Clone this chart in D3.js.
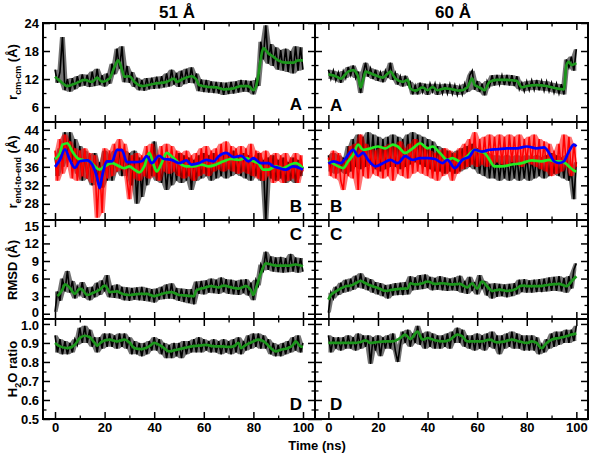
<!DOCTYPE html>
<html>
<head>
<meta charset="utf-8">
<script src="https://cdn.jsdelivr.net/npm/d3@7"></script>
<style>
  body { margin: 0; background: #fff; }
  svg text { font-family: "Liberation Sans", Arial, sans-serif; font-weight: bold; }
</style>
</head>
<body>
<script>
const WIDTH  = 591;
const HEIGHT = 453;

// Panel columns (x ranges) and rows (y ranges), in pixels
const COLS = [[43, 315], [315, 588]];
const ROWS = [[23, 122], [122, 220], [220, 319], [319, 419]];
const X_DOMAINS = [[-4.84, 104.84], [-5.4, 104.7]];

const GREEN_DARK = "#1c961c";
const GREEN_LIME = "#22ee22";

// ---- axis ticks ----
const X_TICKS  = [0, 20, 40, 60, 80, 100];
const X_MINOR  = [10, 30, 50, 70, 90];
const A_TICKS  = [6, 12, 18, 24];
const A_MINOR  = [3, 9, 15, 21];
const B_TICKS  = [28, 32, 36, 40, 44];
const B_MINOR  = [26, 30, 34, 38, 42];
const C_TICKS  = [0, 3, 6, 9, 12, 15];
const C_MINOR  = [1.5, 4.5, 7.5, 10.5, 13.5];
const D_TICKS  = [0.5, 0.6, 0.7, 0.8, 0.9, 1.0];
const D_MINOR  = [0.55, 0.65, 0.75, 0.85, 0.95];

// ---- raw series: one value per ns, index = time (ns) ----
const rcmLeftRaw = [14,11.2,13.5,21,9.6,12,9.3,12.2,9.8,12.6,10.4,13,10.6,12.9,10.3,13.6,10.5,14.2,10.7,12.8,
  10.4,13.2,11,15.3,13,18.5,14.2,19,11.3,14.8,11.2,13.5,10.3,12.3,9.6,11.8,9.5,12.2,9.8,12.3,
  9.9,12.5,10,12.6,10.2,13.2,10.4,14,10.8,13.3,10.3,13.8,10.9,14.2,11.2,14.5,11.1,13.2,9.4,11.9,
  9.2,11.8,9.1,11.5,9,11.4,8.9,11.3,8.6,11.2,8.8,11.4,8.9,11.5,9.1,11.8,9.3,11.7,9.2,11.6,
  8.7,11.8,10.5,20,16.2,23.5,15.3,19.5,14.8,18.8,14,18.2,13.8,18.5,13.5,18,13.2,19,13.8,18.8,14];
const rcmRightRaw = [14,12,13.8,11.7,13.4,11.2,13.7,12.2,14.6,12.8,14.9,12.2,13.6,9,13,15.5,12.5,14.3,12,14,
  11.6,13.4,11.3,13.8,12.3,15.5,11.8,13.3,10.8,12.6,10.4,12.7,10.8,11.4,8.7,10.6,8.7,11.2,9.2,11,
  8.6,11,9.3,11,8.6,10.8,8.9,11,8.9,10.9,8.8,10.7,8.6,10.5,8.7,11,9.2,12.8,13.8,9.7,
  11.6,9.2,11,8.5,11.6,10.4,12.8,10.6,12.9,10.8,12.8,10.7,12.9,10.6,12.8,10.5,12.6,9.8,11.2,9.4,
  11.5,9.6,11.7,9.7,11.8,9.6,11.6,9.5,11.5,9.4,11.2,9.1,11,8.9,10.9,8.7,16.2,14.5,16.8,13.8,18.4];

const endLeftBlack = [38,34,40,36,43.5,38,43.5,37,42,34.5,40.5,33,39.5,33.5,38.5,32,39,33,37,31.5,
  39.5,33,38.5,33,39.5,35,40,34,39.5,34,39,32,39.5,28,38,29.5,37.5,32,38.5,34,
  41.5,33,38,32.5,37.5,31,37,32,38,33,39,32.5,38.5,33,38,31,37.5,33,38.5,33.5,
  39,34,38.5,33,39,33.5,38,34,38.5,33.5,39,34,39.5,34.5,38.5,34,39,33.5,38.5,33,
  38,34,39,33,37.5,24,38,33.5,38.5,33,37.5,33.5,38,32.5,37,33,38,32.5,37.5,34,36];
const endLeftRed = [39.5,33,42,34.5,43,36,41.5,33.5,40,33,39.5,34,40,33.5,39,32.5,38.5,25,36,26,
  40,33.5,39.5,34,41,35,42,35.5,41,33.5,29,38.5,33.5,39,33,38.5,34,40.5,33.5,41,
  34,38.5,33,40.5,35,41,34.5,40.5,35,39.5,34,39,33.5,39.5,34,38.5,33,39,34,40,
  34.5,40.5,34,39.5,35,40,35.5,41,35,41.5,35.5,40.5,35,40,34.5,40.5,35,40,34.5,41,
  34,39.5,33.5,39,33,39.5,34,38.5,32.5,39,33,38.5,32.5,39,33,38,33.5,39,32.5,38.5,35];
const endRightBlack = [38.5,35,39,34.5,38.5,35,38,34.5,40.5,35,42,36,43,35.5,42.5,36,43.5,36.5,43,35.5,
  42.5,35,42,35.5,42.5,36,43,36,42.5,35.5,42,36,43,36.5,43.5,37,43,36.5,42.5,36,
  42,35.5,41.5,35,40.5,35,40,34.5,39.5,35,39,34.5,39.5,35,40,35.5,40.5,36,41,35.5,
  40,34.5,39.5,34,39,33.5,38.5,33.5,38.5,33,38,33.5,38.5,33,38,33.5,38.5,33,38,33.5,
  38.5,33,38,33.5,38.5,34,38,33.5,38.5,34,39,34.5,38.5,34,38,33.5,38.5,33,35,29,37];
const endRightRed = [38,34,39.5,33.5,39,33,31,37.5,34,40.5,33.5,41,31,43,34,41,33.5,40,34.5,39.5,
  34,40,33.5,40.5,34,41,33,40.5,34.5,41.5,34,40,33.5,41,34.5,42,35,41,34.5,40.5,
  34,39.5,33.5,39,33,39.5,34,40,34.5,39.5,33,39,34.5,40,35.5,41,36,42,36.5,43.5,
  36,42,36.5,42.5,36,43,36.5,42.5,37,43,36.5,42.5,36,43,37,42.5,36.5,43,36,42,
  37,42.5,36.5,43,36,42,35.5,41.5,35,41,34,39.5,34.5,41,35,43,36,42.5,34,41,36];

const rmsdLeftRaw = [0.3,3.8,2.2,6,3.8,7.3,3.6,5.6,2.6,4.6,3.3,5.4,2.7,4.5,2.3,4.6,2.8,5.3,3.2,5.7,
  3.8,6.6,2.8,4.8,2.7,5,2.6,4.6,2.3,4.5,2.2,4.4,2.4,4.5,2.3,4.6,2.2,4.4,2.1,4.2,
  1.9,4.3,2.4,4.6,2.5,5,2.6,5.2,2.5,4.4,2.2,4.3,2,4.2,1.8,4.2,1.6,5.5,3.4,5.6,
  3.3,5.7,3.6,6,3.5,5.8,3.4,6.2,3.7,5.9,3.4,5.8,3.3,5.6,3.2,5.8,3.5,5.9,3.1,5.3,
  2.3,5.8,4.8,8.4,7.4,10.6,7.5,9.8,7.2,9.6,7.1,9.7,7,9.5,7.1,10.2,7.2,9.6,7,9.5,7.2];
const rmsdRightRaw = [0.2,3.6,2.6,4.6,3.2,5.3,3.6,5.8,3.8,6,4.1,6.5,4.5,6.9,4.3,6.2,4,5.9,3.6,5.4,
  3.3,5.2,3,4.9,2.6,5,3.1,5.2,3.2,5.3,3.2,5.4,3.3,6.4,4,6.2,4.1,6.6,4.2,6.7,
  4.4,6.3,4,6.1,4.1,6.4,4,6.2,3.9,6,4,6.2,3.9,6.5,3.6,5.6,3.4,6.3,3.9,5.4,
  3.3,6.6,4.2,5.6,3.1,5.1,2.6,5.2,2.9,5.1,3,5,2.8,5.1,3,5.2,3.3,5.8,3.7,5.9,
  3.6,5.7,3.6,5.8,3.7,5.9,3.7,6,3.8,6.2,3.9,6.3,3.9,6.4,3.8,6.1,3.6,6.4,4.3,7.5,8.6];

const h2oLeftRaw = [0.94,0.85,0.92,0.84,0.91,0.84,0.9,0.85,0.92,0.89,0.98,0.9,0.99,0.9,0.97,0.88,0.93,0.85,0.93,0.87,
  0.95,0.88,0.95,0.88,0.94,0.87,0.95,0.88,0.95,0.87,0.93,0.84,0.91,0.84,0.9,0.83,0.9,0.84,0.91,0.86,
  0.93,0.86,0.92,0.84,0.9,0.82,0.89,0.82,0.9,0.83,0.9,0.82,0.91,0.84,0.91,0.85,0.92,0.85,0.93,0.85,
  0.92,0.86,0.91,0.85,0.92,0.85,0.91,0.84,0.92,0.85,0.91,0.84,0.92,0.85,0.93,0.84,0.91,0.86,0.94,0.87,
  0.95,0.88,0.95,0.87,0.94,0.87,0.92,0.84,0.9,0.83,0.89,0.83,0.9,0.84,0.91,0.85,0.93,0.86,0.94,0.85,0.9];
const h2oRightRaw = [0.94,0.85,0.93,0.87,0.93,0.86,0.93,0.87,0.94,0.87,0.93,0.86,0.95,0.87,0.94,0.88,0.94,0.79,0.93,0.86,
  0.94,0.83,0.93,0.87,0.94,0.87,0.95,0.86,0.8,0.89,0.96,0.9,0.97,0.88,0.95,0.9,0.99,0.89,0.95,0.87,
  0.96,0.88,0.95,0.87,0.94,0.87,0.94,0.88,0.95,0.87,0.96,0.9,0.98,0.9,0.97,0.88,0.94,0.87,0.94,0.86,
  0.95,0.87,0.94,0.86,0.95,0.88,0.96,0.87,0.94,0.84,0.94,0.87,0.95,0.88,0.96,0.87,0.95,0.87,0.94,0.86,
  0.94,0.86,0.94,0.86,0.93,0.84,0.89,0.85,0.92,0.87,0.95,0.88,0.96,0.89,0.96,0.9,0.97,0.9,0.97,0.91,0.99];

// ---- running averages: [time (ns), value] ----
const rcmLeftAvg = [[0,12.5],[2,11.6],[5,10.5],[8,11],[12,11.8],[15,11.4],[17,12.3],[19,11.4],[22,12.1],[24,14.6],
  [25.5,16],[27,14],[28,12.5],[30,12.6],[32,11.4],[35,10.5],[40,11],[45,11.4],[48,12.1],[49,11.4],[52,12.1],
  [55,12.6],[57,11.9],[58,10.7],[62,10.3],[65,10.2],[68,9.8],[72,10],[75,10.5],[78,10.5],[80,9.6],[81,10.3],
  [82,12.8],[83,16.4],[84,18.6],[86,17.5],[88,16.8],[90,16],[93,15.5],[96,15.5],[98,16],[100,16]];
const rcmRightAvg = [[0,13],[3,12.6],[5,12.1],[8,13.6],[10,13.9],[12,12.5],[13,10.2],[14,11.8],[15,13.6],[18,13],
  [20,12.6],[22,12.3],[24,13.2],[25,13.6],[27,12.1],[30,11.4],[32,11.8],[33,10],[35,9.5],[38,10.2],[40,9.6],
  [42,10.3],[44,9.6],[47,10],[50,9.8],[53,9.5],[56,10.2],[58,12.1],[59,10.7],[61,10.2],[63,9.6],[65,11.4],
  [68,11.8],[72,11.8],[76,11.6],[78,10.2],[80,10.5],[84,10.7],[88,10.5],[92,10],[95,9.8],[96,15],[97,15.7],
  [98,15],[100,15.4]];

const endLeftGreen = [[0,37.7],[2,39],[3,40.8],[5,41.1],[7,39.3],[9,37.9],[11,37.5],[14,37.2],[16,36.1],[18,35.4],
  [20,36.1],[23,36.8],[26,36.1],[28,35.7],[30,36.1],[32,35.4],[34,34.8],[36,36.1],[38,39],[40,36.1],[41,35],
  [43,36.8],[45,39],[47,38.3],[50,36.8],[53,36.1],[56,36.1],[59,36.5],[62,36.1],[65,36.5],[68,37.2],[71,37.7],
  [74,37.5],[77,37.9],[80,37.2],[82,36.8],[84,35.4],[86,35.4],[89,36.1],[92,35.7],[95,36.5],[97,36.8],[100,35.7]];
const endLeftBlue = [[0,36],[2,37.5],[4,39.8],[6,37.5],[8,35.8],[10,37.2],[13,37.4],[15,36.5],[17,33.6],[18,31.4],
  [19,34],[21,37.2],[23,37.2],[25,39.7],[27,39.6],[29,37],[32,37],[35,37.2],[37,38.3],[39,36.8],[42,38.4],
  [44,37.7],[47,37.5],[50,36.8],[53,37.4],[55,36.5],[58,36.8],[61,37.5],[64,37.2],[66,38.3],[69,39],[72,38.1],
  [75,38.4],[78,37.2],[80,37.9],[83,36.8],[86,36.8],[88,36.1],[90,35.8],[93,35.4],[96,36.1],[100,35.4]];
const endRightGreen = [[0,37.2],[2,36.7],[4,36.1],[6,35.7],[8,37.2],[10,38.6],[12,40.8],[14,39.7],[17,40],[20,40.4],
  [23,40],[26,40.8],[28,40.4],[31,39],[34,40],[37,41.1],[40,40],[42,40.4],[45,39],[48,37.5],[50,37.9],
  [53,37.2],[56,38.3],[59,39.7],[61,39.3],[63,39],[65,37.5],[67,36.1],[70,36.1],[74,36.5],[78,36.8],[82,37.4],
  [86,37.2],[89,37.5],[91,37.2],[93,37.2],[95,37],[97,36.1],[99,35.2],[100,35]];
const endRightBlue = [[0,36.7],[2,37.2],[5,36.8],[7,37.9],[10,39.7],[12,38.3],[14,39],[16,37.5],[19,36.1],[22,36.8],
  [25,37.5],[28,36.8],[31,38.3],[34,37.5],[37,37.9],[40,37.9],[43,37.7],[46,36.8],[48,37.5],[51,35.7],[54,37.5],
  [57,38.3],[59,39.7],[62,39.3],[65,39.7],[68,39.8],[72,40],[76,40],[80,40.4],[84,40],[87,40.2],[89,39],
  [91,37.2],[93,36.8],[95,37.2],[97,39.3],[99,40.8],[100,40.4]];

const rmsdLeftAvg = [[1,3],[3,4.1],[4,5],[6,4.4],[8,3.4],[10,4.3],[11,4.1],[13,3.2],[15,3.5],[18,4.1],[20,4.8],
  [21,4.4],[22,3.7],[25,3.8],[27,3.4],[30,3.2],[34,3.4],[37,3.4],[40,3],[44,3.5],[47,3.7],[50,3.2],[53,3.1],
  [56,3],[57,4],[60,4.4],[63,4.7],[66,4.5],[68,4.8],[71,4.5],[74,4.3],[77,4.7],[79,4],[80,3.2],[81,4.3],
  [83,6.9],[85,8.6],[87,8.4],[90,8.2],[94,8.2],[97,8.4],[100,8.1]];
const rmsdRightAvg = [[0,2.4],[1,3.2],[3,3.8],[5,4.3],[7,4.7],[9,4.8],[11,5.2],[13,5.6],[15,5.2],[17,4.8],[20,4.4],
  [23,3.9],[26,4.1],[30,4.3],[32,4.3],[33,5.2],[35,5],[38,5.2],[40,5.5],[43,5.1],[46,5.2],[50,5],[53,5.1],
  [56,4.5],[58,5.2],[60,4.3],[62,5.5],[64,4.7],[66,3.9],[69,4.1],[72,3.9],[75,4.1],[78,4.8],[81,4.7],[84,4.7],
  [87,4.8],[90,5],[93,5.1],[96,4.7],[98,5.5],[100,6.4]];

const h2oLeftAvg = [[0,0.9],[2,0.882],[5,0.873],[8,0.89],[10,0.926],[12,0.938],[14,0.93],[16,0.9],[17,0.886],
  [19,0.908],[22,0.917],[25,0.908],[28,0.917],[30,0.903],[32,0.873],[35,0.868],[38,0.882],[40,0.9],[42,0.89],
  [44,0.873],[46,0.856],[49,0.864],[52,0.873],[55,0.882],[58,0.886],[61,0.89],[64,0.882],[67,0.882],[70,0.879],
  [72,0.882],[74,0.9],[75,0.873],[77,0.89],[80,0.908],[82,0.917],[85,0.9],[87,0.873],[89,0.856],[91,0.864],
  [94,0.873],[96,0.89],[97,0.908],[99,0.882],[100,0.879]];
const h2oRightAvg = [[0,0.9],[5,0.9],[10,0.9],[13,0.905],[15,0.914],[17,0.9],[20,0.905],[23,0.908],[26,0.908],
  [29,0.926],[31,0.944],[33,0.921],[36,0.96],[38,0.917],[40,0.926],[43,0.914],[46,0.908],[49,0.917],[52,0.944],
  [54,0.935],[56,0.908],[59,0.908],[62,0.908],[65,0.917],[68,0.903],[71,0.908],[74,0.917],[77,0.908],[80,0.9],
  [82,0.908],[84,0.9],[86,0.873],[88,0.9],[90,0.917],[93,0.926],[96,0.935],[98,0.944],[100,0.949]];

// Row definitions (y domain, ticks, label)
const ROW_DEFS = [
  { domain: [2.8, 24],    major: A_TICKS, minor: A_MINOR, fmt: d3.format("d"),   letter: "A", letterY: [110, 111] },
  { domain: [24.5, 45.7], major: B_TICKS, minor: B_MINOR, fmt: d3.format("d"),   letter: "B", letterY: [212, 212] },
  { domain: [-0.9, 16],   major: C_TICKS, minor: C_MINOR, fmt: d3.format("d"),   letter: "C", letterY: [240, 240] },
  { domain: [0.5, 1.026], major: D_TICKS, minor: D_MINOR, fmt: d3.format(".1f"), letter: "D", letterY: [410, 410] }
];

// Series for each [row][col]: raw (one value per ns) and averaged ([t, v])
const SERIES = [
  [ { raw: [[rcmLeftRaw, "#000"]], avg: [[rcmLeftAvg, GREEN_DARK]] },
    { raw: [[rcmRightRaw, "#000"]], avg: [[rcmRightAvg, GREEN_DARK]] } ],
  [ { raw: [[endLeftBlack, "#000"], [endLeftRed, "#ff0000"]], avg: [[endLeftGreen, GREEN_LIME], [endLeftBlue, "#0000ff"]] },
    { raw: [[endRightBlack, "#000"], [endRightRed, "#ff0000"]], avg: [[endRightGreen, GREEN_LIME], [endRightBlue, "#0000ff"]] } ],
  [ { raw: [[rmsdLeftRaw, "#000"]], avg: [[rmsdLeftAvg, GREEN_DARK]] },
    { raw: [[rmsdRightRaw, "#000"]], avg: [[rmsdRightAvg, GREEN_DARK]] } ],
  [ { raw: [[h2oLeftRaw, "#000"]], avg: [[h2oLeftAvg, GREEN_DARK]] },
    { raw: [[h2oRightRaw, "#000"]], avg: [[h2oRightAvg, GREEN_DARK]] } ]
];

const svg = d3.select("body").append("svg")
  .attr("width", WIDTH)
  .attr("height", HEIGHT);
const defs = svg.append("defs");

function styleAxis(g, width) {
  g.select(".domain").remove();
  g.selectAll("line").attr("stroke", "#000").attr("stroke-width", width);
  g.selectAll("text").attr("fill", "#000").style("font-size", "13px");
}

// local envelope of a noisy trace: min / max of each sample and its neighbours
function neighbours(a, i) {
  return a.slice(Math.max(0, i - 1), i + 2);
}

function drawPanel(r, c) {
  const def = ROW_DEFS[r];
  const [x0, x1] = COLS[c];
  const [y0, y1] = ROWS[r];
  const x = d3.scaleLinear().domain(X_DOMAINS[c]).range([x0, x1]);
  const y = d3.scaleLinear().domain(def.domain).range([y1, y0]);
  const id = "clip-" + r + "-" + c;

  defs.append("clipPath").attr("id", id)
    .append("rect").attr("x", x0).attr("y", y0).attr("width", x1 - x0).attr("height", y1 - y0);

  const plot = svg.append("g").attr("clip-path", "url(#" + id + ")");

  // noisy traces, one sample per ns: shaded envelope + the trace itself
  SERIES[r][c].raw.forEach(([vals, color]) => {
    plot.append("path")
      .datum(vals)
      .attr("fill", color)
      .attr("fill-opacity", 0.55)
      .attr("d", d3.area()
        .x((d, i) => x(i))
        .y0((d, i, a) => y(d3.min(neighbours(a, i))))
        .y1((d, i, a) => y(d3.max(neighbours(a, i)))));
    plot.append("path")
      .datum(vals)
      .attr("fill", "none")
      .attr("stroke", color)
      .attr("stroke-width", 1.6)
      .attr("d", d3.line().x((d, i) => x(i)).y(d => y(d)));
  });
  // running averages
  SERIES[r][c].avg.forEach(([vals, color]) => {
    plot.append("path")
      .datum(vals)
      .attr("fill", "none")
      .attr("stroke", color)
      .attr("stroke-width", 2.7)
      .attr("stroke-linejoin", "round")
      .attr("d", d3.line().curve(d3.curveMonotoneX).x(d => x(d[0])).y(d => y(d[1])));
  });

  // ticks on all four sides, pointing inward
  const blank = () => "";
  const addAxis = (axis, tx, ty, w) => {
    const g = svg.append("g").attr("transform", `translate(${tx},${ty})`).call(axis);
    styleAxis(g, w);
    return g;
  };
  const yLabels = addAxis(d3.axisLeft(y).tickValues(def.major).tickSize(-7).tickPadding(4)
    .tickFormat(c === 0 ? def.fmt : blank), x0, 0, 1.5);
  // "0" of panel C and "1.0" of panel D sit right at the shared border: nudge them apart
  if (r === 2) yLabels.selectAll("text").filter(d => d === 0).attr("dy", "0.2em");
  if (r === 3) yLabels.selectAll("text").filter(d => d === 1.0).attr("dy", "0.46em");
  addAxis(d3.axisLeft(y).tickValues(def.minor).tickSize(-3.5).tickFormat(blank), x0, 0, 1.3);
  addAxis(d3.axisRight(y).tickValues(def.major).tickSize(-7).tickFormat(blank), x1, 0, 1.5);
  addAxis(d3.axisRight(y).tickValues(def.minor).tickSize(-3.5).tickFormat(blank), x1, 0, 1.3);
  addAxis(d3.axisBottom(x).tickValues(X_TICKS).tickSize(-7).tickPadding(4)
    .tickFormat(r === 3 ? d3.format("d") : blank), 0, y1, 1.5);
  addAxis(d3.axisBottom(x).tickValues(X_MINOR).tickSize(-3.5).tickFormat(blank), 0, y1, 1.3);
  addAxis(d3.axisTop(x).tickValues(X_TICKS).tickSize(-7).tickFormat(blank), 0, y0, 1.5);
  addAxis(d3.axisTop(x).tickValues(X_MINOR).tickSize(-3.5).tickFormat(blank), 0, y0, 1.3);

  // frame
  svg.append("rect")
    .attr("x", x0).attr("y", y0)
    .attr("width", x1 - x0).attr("height", y1 - y0)
    .attr("fill", "none").attr("stroke", "#000").attr("stroke-width", 2);

  // panel letter
  svg.append("text")
    .attr("x", c === 0 ? 302 : 330)
    .attr("y", def.letterY[c])
    .attr("text-anchor", c === 0 ? "end" : "start")
    .style("font-size", "17px")
    .text(def.letter);
}

for (let r = 0; r < 4; r++) {
  for (let c = 0; c < 2; c++) drawPanel(r, c);
}

// column titles
svg.append("text").attr("x", 177).attr("y", 18).attr("text-anchor", "middle")
  .style("font-size", "17px").text("51 Å");
svg.append("text").attr("x", 453).attr("y", 18).attr("text-anchor", "middle")
  .style("font-size", "17px").text("60 Å");

// x axis title
svg.append("text").attr("x", 317).attr("y", 450).attr("text-anchor", "middle")
  .style("font-size", "13px").text("Time (ns)");

// y axis titles (rotated, with subscripts)
function yTitle(cy, parts) {
  const t = svg.append("text")
    .attr("transform", `translate(17,${cy}) rotate(-90)`)
    .attr("text-anchor", "middle")
    .style("font-size", "13px");
  parts.forEach(([txt, sub]) => {
    const s = t.append("tspan").text(txt);
    if (sub === 1) s.attr("dy", 4).style("font-size", "9px");
    if (sub === -1) s.attr("dy", -4);
  });
}
yTitle(72,  [["r"], ["cm-cm", 1], [" (Å)", -1]]);
yTitle(172, [["r"], ["end-to-end", 1], [" (Å)", -1]]);
yTitle(270, [["RMSD (Å)"]]);
yTitle(369, [["H"], ["2", 1], ["O ratio", -1]]);
</script>
</body>
</html>
